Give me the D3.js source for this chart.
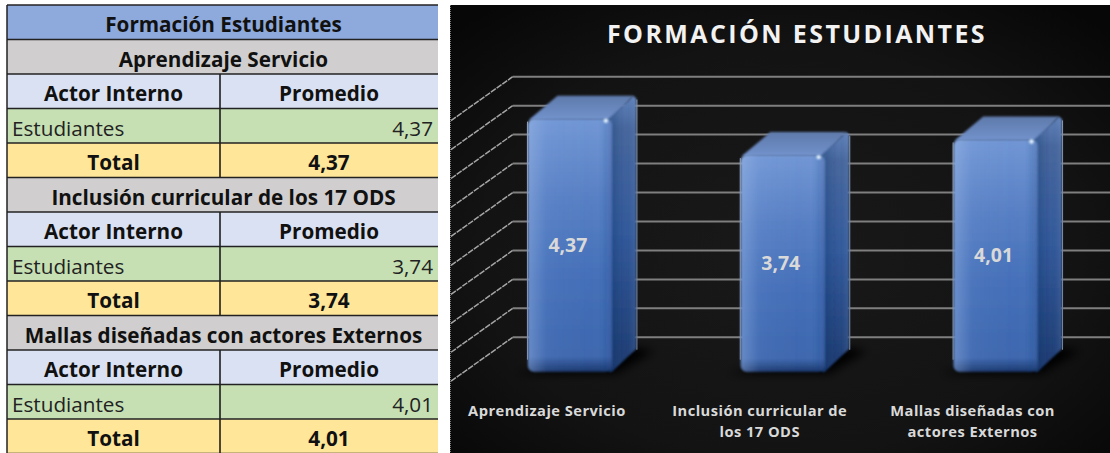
<!DOCTYPE html>
<html>
<head>
<meta charset="utf-8">
<script src="https://d3js.org/d3.v7.min.js"></script>
<style>
  html, body { margin: 0; padding: 0; background: #fff; }
  svg { display: block; }
  text { font-family: "Open Sans", "Noto Sans", sans-serif; }
</style>
</head>
<body>
<div id="my_dataviz"></div>
<script>
// chart data
var title = "FORMACIÓN ESTUDIANTES";
var categories = ["Aprendizaje Servicio", "Inclusión curricular de los 17 ODS", "Mallas diseñadas con actores Externos"];
var categoryLines = [["Aprendizaje Servicio"], ["Inclusión curricular de", "los 17 ODS"], ["Mallas diseñadas con", "actores Externos"]];
var values = [4.37, 3.74, 4.01];
var gridValues = [0, 0.5, 1, 1.5, 2, 2.5, 3, 3.5, 4, 4.5];

// table data
var tableTitle = "Formación Estudiantes";
var tableSections = ["Aprendizaje Servicio", "Inclusión curricular de los 17 ODS", "Mallas diseñadas con actores Externos"];
var tableHeaders = ["Actor Interno", "Promedio"];
var tableActor = "Estudiantes";
var tableTotal = "Total";

var fmt = function(v) { return v.toFixed(2).replace(".", ","); };

var svg = d3.select("#my_dataviz")
  .append("svg")
    .attr("width", 1110)
    .attr("height", 453);

var defs = svg.append("defs");

function gradient(id, x2, y2, stops) {
  var g = defs.append("linearGradient").attr("id", id)
    .attr("x1", 0).attr("y1", 0).attr("x2", x2).attr("y2", y2);
  stops.forEach(function(s) {
    g.append("stop").attr("offset", s[0]).attr("stop-color", s[1]);
  });
}
// front of the bar: lighter at the top and the left edge
gradient("frontV", 0, 1, [[0, "#7398d6"], [0.3, "#5a82c6"], [0.62, "#4671ba"], [0.94, "#3f69b0"], [1, "#1d3a70"]]);
gradient("frontH", 1, 0, [[0, "rgba(170,195,235,0.38)"], [0.22, "rgba(170,195,235,0.05)"], [0.85, "rgba(30,60,120,0)"], [1, "rgba(30,60,120,0.25)"]]);
gradient("sideV", 0, 1, [[0, "#6284bd"], [0.12, "#49699f"], [0.5, "#345b9c"], [1, "#1f3d72"]]);
gradient("sideH", 1, 0, [[0, "rgba(20,45,95,0.3)"], [0.6, "rgba(20,45,95,0)"], [1, "rgba(130,160,210,0.2)"]]);
gradient("topFill", 0, 1, [[0, "#5f7aab"], [1, "#7292cc"]]);

var bg = defs.append("radialGradient").attr("id", "panelBg")
  .attr("cx", "50%").attr("cy", "55%").attr("r", "70%");
bg.append("stop").attr("offset", 0).attr("stop-color", "#191919");
bg.append("stop").attr("offset", 0.65).attr("stop-color", "#131313");
bg.append("stop").attr("offset", 1).attr("stop-color", "#070707");

defs.append("filter").attr("id", "soft").append("feGaussianBlur").attr("stdDeviation", 0.9);
defs.append("filter").attr("id", "shadowBlur")
    .attr("x", "-30%").attr("y", "-30%").attr("width", "160%").attr("height", "160%")
  .append("feGaussianBlur").attr("stdDeviation", 5);
defs.append("filter").attr("id", "spark")
    .attr("x", "-100%").attr("y", "-100%").attr("width", "300%").attr("height", "300%")
  .append("feGaussianBlur").attr("stdDeviation", 0.8);

// ---------- table on the left ----------
var table = svg.append("g");
var tableX = d3.scaleOrdinal().domain([0, 1, 2]).range([7, 220, 438]);
var tableY = d3.scaleLinear().domain([0, 13]).range([5, 453.5]);
var colors = { title: "#8ea9db", section: "#d0cece", head: "#d9e1f2", body: "#c6e0b4", total: "#ffe699" };
var tableFont = 20.7, textShift = 3;

function fullRow(i, color, label) {
  table.append("rect")
    .attr("x", tableX(0)).attr("y", tableY(i))
    .attr("width", tableX(2) - tableX(0)).attr("height", tableY(1) - tableY(0))
    .attr("fill", color);
  table.append("text")
    .attr("x", (tableX(0) + tableX(2)) / 2 + 1).attr("y", tableY(i + 0.5) + textShift)
    .attr("dy", "0.35em").attr("text-anchor", "middle")
    .attr("font-size", tableFont).attr("font-weight", 700).attr("fill", "#111")
    .text(label);
}
function splitRow(i, color, left, right, opts) {
  [0, 1].forEach(function(c) {
    table.append("rect")
      .attr("x", tableX(c)).attr("y", tableY(i))
      .attr("width", tableX(c + 1) - tableX(c)).attr("height", tableY(1) - tableY(0))
      .attr("fill", color);
  });
  if (opts.bold) {
    [left, right].forEach(function(t, c) {
      table.append("text")
        .attr("x", (tableX(c) + tableX(c + 1)) / 2).attr("y", tableY(i + 0.5) + textShift)
        .attr("dy", "0.35em").attr("text-anchor", "middle")
        .attr("font-size", tableFont).attr("font-weight", 700).attr("fill", "#111")
        .text(t);
    });
  } else {
    table.append("text").attr("x", tableX(0) + 5).attr("y", tableY(i + 0.5) + textShift)
      .attr("dy", "0.35em").attr("font-size", tableFont).attr("fill", "#222").text(left);
    table.append("text").attr("x", tableX(2) - 5).attr("y", tableY(i + 0.5) + textShift)
      .attr("dy", "0.35em").attr("text-anchor", "end").attr("font-size", tableFont).attr("fill", "#222").text(right);
  }
}

fullRow(0, colors.title, tableTitle);
tableSections.forEach(function(name, s) {
  var r = 1 + s * 4;
  fullRow(r, colors.section, name);
  splitRow(r + 1, colors.head, tableHeaders[0], tableHeaders[1], { bold: true });
  splitRow(r + 2, colors.body, tableActor, fmt(values[s]), { bold: false });
  splitRow(r + 3, colors.total, tableTotal, fmt(values[s]), { bold: true });
  // divider between the two columns
  table.append("line")
    .attr("x1", tableX(1)).attr("x2", tableX(1))
    .attr("y1", tableY(r + 1)).attr("y2", tableY(r + 4))
    .attr("stroke", "#111").attr("stroke-width", 1.5);
});
// horizontal rules and left border
d3.range(0, 14).forEach(function(i) {
  table.append("line")
    .attr("x1", tableX(0)).attr("x2", tableX(2))
    .attr("y1", tableY(i)).attr("y2", tableY(i))
    .attr("stroke", "#222").attr("stroke-width", 1.5);
});
table.append("line")
  .attr("x1", tableX(0)).attr("x2", tableX(0))
  .attr("y1", tableY(0)).attr("y2", tableY(13))
  .attr("stroke", "#222").attr("stroke-width", 1.5);

// ---------- 3d column chart on the right ----------
var panel = svg.append("g");
panel.append("rect")
  .attr("x", 450).attr("y", 5).attr("width", 660).attr("height", 448)
  .attr("fill", "url(#panelBg)");
panel.append("line")
  .attr("x1", 450.5).attr("x2", 450.5).attr("y1", 5).attr("y2", 453)
  .attr("stroke", "#777").attr("stroke-dasharray", "1,1");

panel.append("text")
  .attr("x", 797).attr("y", 34).attr("dy", "0.35em")
  .attr("text-anchor", "middle")
  .attr("font-size", 25).attr("font-weight", 700)
  .attr("letter-spacing", 2.4).attr("fill", "#f2f2f2")
  .text(title);

// front plane of the columns
var x = d3.scaleBand()
  .domain(categories)
  .range([463.5, 1102])
  .paddingInner(0.606)
  .paddingOuter(0.303);
var y = d3.scaleLinear()
  .domain([0, 4.5])
  .range([371.7, 111.1]);

// depth of the walls and of the columns
var wallBack = -34.4, wallFront = 9.5, wallLeft = 451, wallRight = 512.7;
var depthX = 24.5, depthY = 23;

panel.selectAll(".wall")
  .data(gridValues)
  .enter().append("line")
    .attr("class", "wall")
    .attr("x1", wallLeft).attr("y1", function(d) { return y(d) + wallFront; })
    .attr("x2", wallRight).attr("y2", function(d) { return y(d) + wallBack; })
    .attr("stroke", "#a5a5a5").attr("stroke-width", 1.5)
    .attr("stroke-dasharray", "6,1");

panel.selectAll(".grid")
  .data(gridValues)
  .enter().append("line")
    .attr("class", "grid")
    .attr("x1", wallRight).attr("x2", 1110)
    .attr("y1", function(d) { return y(d) + wallBack; })
    .attr("y2", function(d) { return y(d) + wallBack; })
    .attr("stroke", "#7f7f7f").attr("stroke-width", 2);

var bars = panel.selectAll(".bar")
  .data(categories)
  .enter().append("g")
    .attr("class", "bar");

function pts(list) { return list.map(function(p) { return p.join(","); }).join(" "); }

bars.each(function(c, i) {
  var g = d3.select(this);
  var x0 = x(c), x1 = x(c) + x.bandwidth();
  var top = y(values[i]), base = y(0);
  var side = pts([[x1 - 3, top], [x1 + depthX - 3, top - depthY], [x1 + depthX, top - depthY + 3], [x1 + depthX, base - depthY], [x1, base], [x1 - 3, base]]);

  // shadow on the floor
  g.append("polygon")
    .attr("points", pts([[x0 - 14, base + 2], [x1 + 4, base + 2], [x1 + depthX + 18, base - depthY + 2], [x1 + depthX - 6, base - depthY - 2]]))
    .attr("fill", "#000").attr("filter", "url(#shadowBlur)");

  // thin edges behind the column
  g.append("line")
    .attr("x1", x1 + depthX + 0.5).attr("x2", x1 + depthX + 0.5)
    .attr("y1", top - depthY + 4).attr("y2", base - depthY + 1)
    .attr("stroke", "#a0a0a0").attr("stroke-width", 1);
  g.append("line")
    .attr("x1", x0 - 0.5).attr("x2", x0 - 0.5)
    .attr("y1", top + 3).attr("y2", base - 12)
    .attr("stroke", "#a0a0a0").attr("stroke-width", 1);

  // top face
  g.append("polygon")
    .attr("points", pts([[x0 + 1, top + 1], [x0 + depthX + 5, top - depthY], [x1 + depthX - 3, top - depthY], [x1, top + 1]]))
    .attr("fill", "url(#topFill)").attr("filter", "url(#soft)");
  // side face
  g.append("polygon").attr("points", side)
    .attr("fill", "url(#sideV)").attr("filter", "url(#soft)");
  g.append("polygon").attr("points", side)
    .attr("fill", "url(#sideH)").attr("filter", "url(#soft)");
  // front face
  g.append("rect")
    .attr("x", x0).attr("y", top).attr("width", x.bandwidth()).attr("height", base - top)
    .attr("rx", 6).attr("fill", "url(#frontV)").attr("filter", "url(#soft)");
  g.append("rect")
    .attr("x", x0).attr("y", top).attr("width", x.bandwidth()).attr("height", base - top)
    .attr("rx", 6).attr("fill", "url(#frontH)").attr("filter", "url(#soft)");
  // highlight near the corner
  g.append("circle")
    .attr("cx", x1 - 6).attr("cy", top + 2).attr("r", 2.2)
    .attr("fill", "#e6f4ff").attr("filter", "url(#spark)");
});

// data labels, in the middle of the front face
panel.selectAll(".value")
  .data(categories)
  .enter().append("text")
    .attr("class", "value")
    .attr("x", function(c) { return x(c) + x.bandwidth() / 2 - 2; })
    .attr("y", function(c, i) { return (y(values[i]) + y(0)) / 2; })
    .attr("dy", "0.35em").attr("text-anchor", "middle")
    .attr("font-size", 19.5).attr("font-weight", 700).attr("fill", "#d9d9d9")
    .text(function(c, i) { return fmt(values[i]); });

// category labels
panel.selectAll(".cat")
  .data(categories)
  .enter().append("text")
    .attr("class", "cat")
    .attr("text-anchor", "middle")
    .attr("font-size", 14.7).attr("font-weight", 700)
    .attr("letter-spacing", 0.45).attr("fill", "#d9d9d9")
    .each(function(c, i) {
      var t = d3.select(this);
      categoryLines[i].forEach(function(line, n) {
        t.append("tspan")
          .attr("x", x(c) + x.bandwidth() / 2 - 23)
          .attr("y", 416 + n * 21)
          .text(line);
      });
    });
</script>
</body>
</html>
